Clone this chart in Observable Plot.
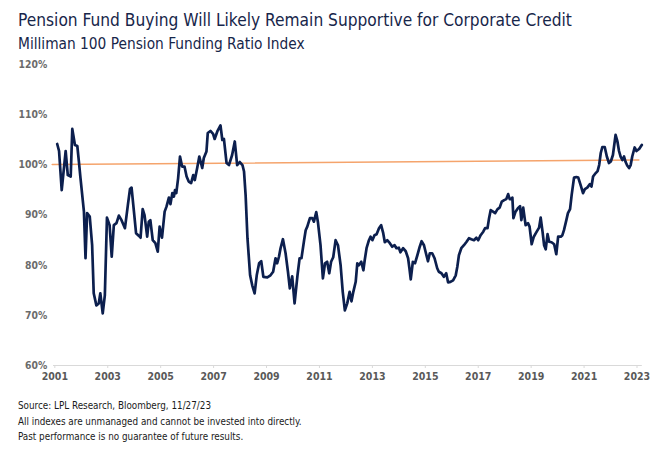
<!DOCTYPE html>
<html><head><meta charset="utf-8">
<script src="https://cdn.jsdelivr.net/npm/d3@7"></script>
<script src="https://cdn.jsdelivr.net/npm/@observablehq/plot@0.6"></script>
<style>
html,body{margin:0;padding:0;background:#fff}
body{width:666px;height:451px;overflow:hidden;position:relative;font-family:"DejaVu Sans Condensed","DejaVu Sans",sans-serif;font-stretch:condensed}
#title{position:absolute;left:18px;top:10px;font-size:17.2px;line-height:20px;color:#17264a;white-space:nowrap}
#subtitle{position:absolute;left:18px;top:35px;font-size:15.3px;line-height:18px;color:#17264a;white-space:nowrap}
#chart{position:absolute;left:0;top:56px}
.foot{position:absolute;left:18px;font-size:9.8px;line-height:12px;color:#1a1a1a;white-space:nowrap}
</style></head><body>
<div id="title">Pension Fund Buying Will Likely Remain Supportive for Corporate Credit</div>
<div id="subtitle">Milliman 100 Pension Funding Ratio Index</div>
<div id="chart"></div>
<div class="foot" style="top:400px">Source: LPL Research, Bloomberg, 11/27/23</div>
<div class="foot" style="top:416px">All indexes are unmanaged and cannot be invested into directly.</div>
<div class="foot" style="top:431px">Past performance is no guarantee of future results.</div>
<script>
const years = [2001.09,2001.16,2001.26,2001.41,2001.49,2001.60,2001.66,2001.76,2001.85,2001.91,2001.97,
2002.10,2002.16,2002.22,2002.32,2002.41,2002.47,2002.57,2002.66,2002.72,2002.81,2002.89,2002.97,
2003.07,2003.15,2003.23,2003.33,2003.42,2003.52,2003.65,2003.76,2003.84,2003.90,2003.99,
2004.07,2004.17,2004.24,2004.32,2004.39,2004.49,2004.55,2004.61,2004.70,2004.80,2004.89,2004.96,2005.05,
2005.15,2005.22,2005.31,2005.37,2005.44,2005.50,2005.54,2005.59,2005.66,2005.73,2005.81,2005.90,2005.98,2006.06,
2006.15,2006.23,2006.29,2006.38,2006.46,2006.57,2006.63,2006.73,2006.78,2006.88,2006.98,2007.04,
2007.14,2007.26,2007.33,2007.39,2007.49,2007.58,2007.70,2007.80,2007.89,2007.99,
2008.09,2008.15,2008.21,2008.28,2008.38,2008.46,2008.55,2008.63,2008.72,2008.80,2008.88,2009.03,
2009.15,2009.25,2009.34,2009.40,2009.47,2009.53,2009.62,2009.72,2009.81,2009.88,2009.97,2010.06,
2010.17,2010.25,2010.32,2010.42,2010.48,2010.54,2010.64,2010.73,2010.79,2010.88,2010.94,2011.04,
2011.13,2011.21,2011.29,2011.37,2011.44,2011.52,2011.61,2011.70,2011.80,2011.88,2011.96,2012.05,
2012.14,2012.21,2012.28,2012.37,2012.43,2012.49,2012.58,2012.66,2012.71,2012.78,2012.87,2012.93,2013.00,2013.08,
2013.16,2013.25,2013.33,2013.41,2013.47,2013.56,2013.66,2013.75,2013.84,2013.91,2014.00,2014.06,
2014.16,2014.26,2014.35,2014.40,2014.45,2014.53,2014.61,2014.70,2014.79,2014.86,2014.95,2015.01,2015.10,
2015.17,2015.26,2015.35,2015.45,2015.51,2015.61,2015.70,2015.79,2015.86,2015.95,2016.05,
2016.15,2016.21,2016.27,2016.36,2016.46,2016.56,2016.65,2016.74,2016.84,2016.93,2017.00,2017.09,
2017.19,2017.26,2017.35,2017.41,2017.47,2017.56,2017.64,2017.73,2017.81,2017.89,2017.98,2018.06,2018.13,
2018.19,2018.25,2018.29,2018.33,2018.41,2018.50,2018.58,2018.63,2018.70,2018.79,2018.88,2018.94,2019.02,2019.10,
2019.21,2019.30,2019.36,2019.43,2019.49,2019.55,2019.62,2019.68,2019.77,2019.87,2019.95,2020.02,2020.12,
2020.18,2020.24,2020.33,2020.39,2020.47,2020.53,2020.62,2020.71,2020.78,2020.87,2020.96,2021.03,2021.12,
2021.22,2021.28,2021.34,2021.44,2021.51,2021.57,2021.63,2021.69,2021.78,2021.86,2021.94,2022.01,2022.09,
2022.19,2022.26,2022.32,2022.38,2022.45,2022.51,2022.57,2022.63,2022.70,2022.76,2022.82,2022.91,2022.98,2023.08,2023.18];

const fundingRatio = [104.2,102.8,95.0,102.8,98.0,97.7,107.2,104.0,103.8,100.7,97.4,
90.7,81.4,90.4,89.7,84.0,74.4,72.0,72.4,74.4,70.4,74.0,89.5,
88.0,81.7,88.0,88.4,89.9,89.0,87.4,92.0,95.2,95.5,90.7,
86.4,85.9,85.5,91.2,90.0,85.7,88.7,89.0,85.0,84.4,82.7,87.7,85.5,
90.7,91.7,93.5,92.2,94.4,93.7,95.0,94.4,97.4,101.7,99.7,99.7,97.7,96.7,
96.4,98.0,97.0,99.4,101.7,99.4,101.4,102.7,106.4,106.8,106.2,105.2,
106.7,107.9,105.0,105.2,100.4,100.0,102.0,104.7,100.0,100.6,
100.0,98.7,94.0,85.4,78.0,76.0,74.4,78.0,80.4,80.8,77.7,77.6,
78.0,78.7,81.4,80.4,81.7,83.4,85.2,82.4,78.7,75.4,77.8,72.4,
78.0,81.4,81.4,85.0,87.0,87.7,89.4,89.4,88.7,90.6,88.7,84.0,
77.4,80.4,80.7,78.4,80.7,81.6,85.0,84.0,80.0,74.7,71.0,72.4,
74.7,72.8,74.7,76.7,80.4,80.0,80.7,79.0,81.0,83.4,85.0,85.7,85.0,86.0,
86.2,87.4,88.0,86.4,84.6,85.0,84.4,83.7,84.0,83.4,83.5,82.6,
83.4,82.8,81.4,79.4,77.2,80.7,80.4,82.0,83.7,84.8,84.0,82.7,80.8,
82.4,82.4,81.4,79.4,78.7,78.4,77.7,78.4,76.6,76.7,77.0,
78.0,79.7,82.0,83.4,84.0,84.7,85.4,85.2,85.0,85.5,85.0,86.0,
86.7,87.4,87.4,89.4,91.0,90.7,90.4,91.2,91.5,92.7,93.0,93.2,94.2,
93.2,93.2,93.5,89.4,90.7,91.4,91.8,89.0,91.5,88.0,88.4,87.7,84.2,85.7,
86.7,87.5,89.5,86.7,84.0,83.2,86.2,84.7,84.6,84.2,82.2,85.7,85.7,
86.0,87.0,89.0,90.4,91.2,94.0,97.5,97.6,97.5,96.0,94.4,95.2,95.5,
96.2,95.7,97.7,98.4,98.8,100.0,102.4,103.6,103.6,101.7,100.4,100.7,102.0,
106.0,104.7,102.8,101.7,101.0,101.7,100.6,99.9,99.4,100.0,101.7,103.5,102.8,103.2,104.0];

const refYears = [2000.9, 2023.07];
const refValues = [100.1, 101.0];

const xTicks = [2001,2003,2005,2007,2009,2011,2013,2015,2017,2019,2021,2023];
const yTicks = [60,70,80,90,100,110,120];

const series = years.map((year, i) => ({year, value: fundingRatio[i]}));
const ref = refYears.map((year, i) => ({year, value: refValues[i]}));

const chart = Plot.plot({
  width: 666,
  height: 340,
  marginLeft: 53,
  marginRight: 24.2,
  marginTop: 8.3,
  marginBottom: 31,
  style: {fontFamily: '"DejaVu Sans Condensed","DejaVu Sans",sans-serif', fontStretch: "condensed", background: "#fff", overflow: "visible"},
  x: {domain: [2000.95, 2023.2]},
  y: {domain: [60, 120]},
  marks: [
    Plot.ruleY([60], {stroke: "#d9d9d9", strokeWidth: 1}),
    Plot.axisX({ticks: xTicks, tickFormat: d3.format("d"), tickSize: 3, tickPadding: 4, stroke: "#d9d9d9", fill: "#595959", fontSize: 10.5, fontWeight: "bold", label: null}),
    Plot.axisY({ticks: yTicks, tickFormat: d => d + "%", tickSize: 0, tickPadding: 6.3, fill: "#6b6b6b", fontSize: 10.3, fontWeight: "bold", label: null}),
    Plot.line(ref, {x: "year", y: "value", stroke: "#f5a46c", strokeWidth: 1.5}),
    Plot.line(series, {x: "year", y: "value", stroke: "#0c1f4e", strokeWidth: 2.7, strokeLinejoin: "round"})
  ]
});
document.getElementById("chart").appendChild(chart);
</script>
</body></html>
